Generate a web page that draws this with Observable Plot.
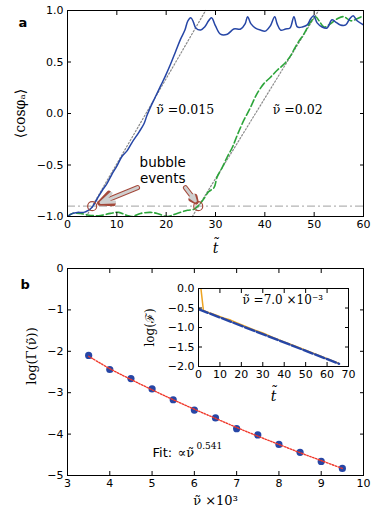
<!DOCTYPE html>
<html><head><meta charset="utf-8">
<script src="https://cdn.jsdelivr.net/npm/d3@7"></script>
<script src="https://cdn.jsdelivr.net/npm/@observablehq/plot@0.6"></script>
<style>
body{margin:0;background:#fff;}
#wrap{position:relative;width:374px;height:524px;background:#fff;}
#wrap svg{position:absolute;overflow:visible;background:transparent;}
</style></head><body><div id="wrap"></div>
<script>
// ---------- Panel a data ----------
const tBlue   = [0,1,2,3.3,4.2,5,6,7,8,9,10,11,12.1,13.1,14.5,15.5,16.1,16.8,17.8,18.9,19.9,20.9,21.9,22.9,23.8,24.4,25,25.5,26,27,27.8,28.6,29.2,30,31,32.4,33.7,35.1,36,36.5,37.2,38.1,39.1,40.1,41.1,42,42.5,43.2,44.2,45.1,45.9,46.6,47.6,48.6,49.3,49.9,50.6,51.6,52.6,53.6,54.3,55.3,56.4,57.2,57.9,58.7,60];
const cosBlue = [-1.0,-0.97,-0.96,-0.96,-0.94,-0.91,-0.83,-0.75,-0.68,-0.59,-0.51,-0.42,-0.36,-0.28,-0.18,-0.10,-0.02,0.06,0.16,0.27,0.37,0.48,0.60,0.72,0.81,0.90,0.93,0.89,0.83,0.81,0.84,0.90,0.93,0.85,0.77,0.77,0.82,0.82,0.87,0.94,0.87,0.83,0.81,0.80,0.85,0.94,0.87,0.81,0.82,0.83,0.94,0.84,0.84,0.86,0.92,0.95,0.88,0.84,0.83,0.91,0.89,0.86,0.86,0.92,0.95,0.90,0.86];
const tGreen   = [0,1,2.6,4.7,6.7,8.7,10.4,12.1,13.1,14.8,16.8,18.2,20.2,22.2,24.3,25.6,26.6,27.6,28.6,29.7,30.3,31.4,32.4,33.4,34.5,35.7,37.1,38.4,39.8,41.1,42.5,43.9,45.2,46.6,47.9,49.3,50.3,51,52,53.3,54.7,56,57.4,58.7,60];
const cosGreen = [-1.0,-0.97,-0.97,-0.99,-0.99,-0.97,-0.96,-0.99,-1.0,-0.97,-0.96,-0.97,-1.0,-0.97,-0.94,-0.93,-0.89,-0.83,-0.76,-0.72,-0.62,-0.52,-0.42,-0.33,-0.20,-0.07,0.06,0.19,0.29,0.35,0.42,0.48,0.56,0.68,0.77,0.89,0.94,0.90,0.84,0.87,0.92,0.94,0.90,0.92,0.95];
const guide1T = [3.8, 28.0], guide1V = [-1.0, 1.0];
const guide2T = [25.3, 50.9], guide2V = [-1.0, 1.0];
const threshold = -0.9;
const bubbleT = [5.0, 26.5], bubbleV = [-0.9, -0.9];
const arrowT1 = [14.2, 23.9], arrowV1 = [-0.72, -0.72];
const arrowT2 = [6.5, 26.1],  arrowV2 = [-0.87, -0.86];
const aXTicks = [0,10,20,30,40,50,60];
const aYTicks = [-1.0,-0.5,0.0,0.5,1.0];
const nuLabels = ["ν\u0303 =0.015", "ν\u0303 =0.02"];
const nuLabelT = [18.0, 41.6], nuLabelV = [0.03, 0.03];
const bubbleWords = ["bubble", "events"];
const bubbleWordT = [19.3, 19.3], bubbleWordV = [-0.48, -0.63];

// ---------- Panel b data ----------
const nu3   = [3.5,4.0,4.5,5.0,5.5,6.0,6.5,7.0,7.5,8.0,8.5,9.0,9.5];
const logG  = [-2.10,-2.44,-2.66,-2.91,-3.17,-3.42,-3.61,-3.87,-4.02,-4.25,-4.44,-4.66,-4.83];
const logGFit = [-2.12,-2.42,-2.68,-2.93,-3.17,-3.40,-3.62,-3.84,-4.05,-4.25,-4.45,-4.64,-4.83];
const bXTicks = [3,4,5,6,7,8,9,10];
const bYTicks = [0,-1,-2,-3,-4,-5];

// ---------- Inset data ----------
const insetT   = [0.5,2.3,5,8,12,15,18,22,26,30,35,40,45,50,55,60,65];
const insetLogF= [0.3,-0.56,-0.62,-0.68,-0.76,-0.81,-0.88,-0.97,-1.06,-1.14,-1.26,-1.37,-1.47,-1.58,-1.69,-1.80,-1.91];
const insetFitT = [0, 65.6], insetFitV = [-0.53, -1.93];
const iXTicks = [0,10,20,30,40,50,60,70];
const iYTicks = [0.0,-0.5,-1.0,-1.5,-2.0];

const BLUE = "#2646a6", GREEN = "#2ca53a", ORANGE = "#eda321", RED = "#f0392b", BROWN = "#a4493b";
const SANS = "DejaVu Sans", SERIF = "DejaVu Serif";
const wrap = document.getElementById("wrap");
const f1 = d3.format(".1f");

function boxAxes(xt, yt, xf, yf) {
  return [
    Plot.axisX(xt, {anchor:"bottom", tickSize:-4, tickPadding:8, tickFormat:xf, fontSize:11, fontFamily:SANS, fill:"#000", label:null}),
    Plot.axisX(xt, {anchor:"top", tickSize:-4, tickFormat:null, label:null, text:null}),
    Plot.axisY(yt, {anchor:"left", tickSize:-4, tickPadding:8, tickFormat:yf, fontSize:11, fontFamily:SANS, fill:"#000", label:null}),
    Plot.axisY(yt, {anchor:"right", tickSize:-4, tickFormat:null, label:null, text:null}),
    Plot.frame({stroke:"#000", strokeWidth:1})
  ];
}

// ---------- Panel a ----------
const rowsBlue = tBlue.map((t,i)=>({t, v:cosBlue[i]}));
const rowsGreen = tGreen.map((t,i)=>({t, v:cosGreen[i]}));
const arrows = arrowT1.map((t,i)=>({x1:t, y1:arrowV1[i], x2:arrowT2[i], y2:arrowV2[i]}));
const pa = Plot.plot({
  width:374, height:260, marginLeft:67, marginRight:11, marginTop:10, marginBottom:44,
  x:{domain:[0,60]}, y:{domain:[-1,1]},
  style:{fontFamily:SANS, background:"transparent"},
  marks:[
    Plot.ruleY([threshold], {stroke:"#b4b4b4", strokeWidth:1.3, strokeDasharray:"8,3,2,3"}),
    Plot.line(guide1T.map((t,i)=>({t, v:guide1V[i]})), {x:"t", y:"v", stroke:"#8a8a8a", strokeWidth:1.2, strokeDasharray:"1.5,2"}),
    Plot.line(guide2T.map((t,i)=>({t, v:guide2V[i]})), {x:"t", y:"v", stroke:"#8a8a8a", strokeWidth:1.2, strokeDasharray:"1.5,2"}),
    Plot.line(rowsGreen, {x:"t", y:"v", stroke:GREEN, strokeWidth:1.6, strokeDasharray:"7,3", curve:"catmull-rom", clip:true}),
    Plot.line(rowsBlue, {x:"t", y:"v", stroke:BLUE, strokeWidth:1.5, curve:"catmull-rom", clip:true}),
    Plot.dot(bubbleT.map((t,i)=>({t, v:bubbleV[i]})), {x:"t", y:"v", r:4.5, stroke:BROWN, strokeWidth:1.2, fill:"none"}),
    Plot.arrow(arrows, {x1:"x1", y1:"y1", x2:"x2", y2:"y2", stroke:BROWN, strokeWidth:5, headLength:11, headAngle:50}),
    Plot.arrow(arrows, {x1:"x1", y1:"y1", x2:"x2", y2:"y2", stroke:"#cfcfcf", strokeWidth:3, headLength:9, headAngle:40, insetEnd:1.5}),
    Plot.text(bubbleWords, {x:(d,i)=>bubbleWordT[i], y:(d,i)=>bubbleWordV[i], text:d=>d, textAnchor:"middle", lineAnchor:"middle", fontSize:13.5, fontFamily:SANS, fill:"#000"}),
    ...boxAxes(aXTicks, aYTicks, d=>String(d), f1),
    Plot.text(nuLabels, {x:(d,i)=>nuLabelT[i], y:(d,i)=>nuLabelV[i], text:d=>d, textAnchor:"start", fontSize:12.5, fontFamily:SERIF, fill:"#000"}),
    Plot.text(["t\u0303"], {frameAnchor:"bottom", dy:36, text:d=>d, fontSize:14, fontFamily:SERIF, fontStyle:"italic", fill:"#000"}),
    Plot.text(["⟨cosφₐ⟩"], {frameAnchor:"left", dx:-47, textAnchor:"middle", lineAnchor:"middle", rotate:-90, text:d=>d, fontSize:14, fontFamily:SERIF, fill:"#000"}),
    Plot.text(["a"], {frameAnchor:"top-left", dx:-49, dy:7, text:d=>d, fontSize:13, fontWeight:"bold", fontFamily:SANS, fill:"#000"})
  ]
});
pa.style.left = "0px"; pa.style.top = "0px";
wrap.appendChild(pa);

// ---------- Panel b ----------
const rowsB = nu3.map((x,i)=>({x, y:logG[i], f:logGFit[i]}));
const pb = Plot.plot({
  width:374, height:264, marginLeft:67, marginRight:11, marginTop:8, marginBottom:49,
  x:{domain:[3,10]}, y:{domain:[-5,0]},
  style:{fontFamily:SANS, background:"transparent"},
  marks:[
    Plot.dot(rowsB, {x:"x", y:"y", r:3.6, fill:BLUE, stroke:"none"}),
    Plot.line(rowsB, {x:"x", y:"f", stroke:RED, strokeWidth:1.4, strokeDasharray:"1.5,1.5", curve:"catmull-rom"}),
    ...boxAxes(bXTicks, bYTicks, d=>String(d), d=>d3.format("d")(d)),
    Plot.text(["ν\u0303 ×10³"], {frameAnchor:"bottom", dy:29, text:d=>d, fontSize:13, fontFamily:SERIF, fill:"#000"}),
    Plot.text(["log(Γ(ν\u0303))"], {frameAnchor:"left", dx:-36, dy:-16, textAnchor:"middle", lineAnchor:"middle", rotate:-90, text:d=>d, fontSize:13, fontFamily:SERIF, fill:"#000"}),
    Plot.text(["Fit:"], {frameAnchor:"top-left", dx:152-67, dy:184, text:d=>d, textAnchor:"start", lineAnchor:"middle", fontSize:13, fontFamily:SANS, fill:"#000"}),
    Plot.text(["∝ν\u0303"], {frameAnchor:"top-left", dx:177-67, dy:184, text:d=>d, textAnchor:"start", lineAnchor:"middle", fontSize:13, fontFamily:SERIF, fill:"#000"}),
    Plot.text(["0.541"], {frameAnchor:"top-left", dx:196-67, dy:178, text:d=>d, textAnchor:"start", lineAnchor:"middle", fontSize:9, fontFamily:SERIF, fill:"#000"}),
    Plot.text(["b"], {frameAnchor:"top-left", dx:-47, dy:11, text:d=>d, fontSize:13, fontWeight:"bold", fontFamily:SANS, fill:"#000"})
  ]
});
pb.style.left = "0px"; pb.style.top = "260px";
wrap.appendChild(pb);

// ---------- Inset ----------
const rowsI = insetT.map((t,i)=>({t, v:insetLogF[i]}));
const rowsIF = insetFitT.map((t,i)=>({t, v:insetFitV[i]}));
const pi = Plot.plot({
  width:220, height:125, marginLeft:58, marginRight:12, marginTop:8, marginBottom:39,
  x:{domain:[0,70]}, y:{domain:[-2,0]},
  style:{fontFamily:SANS, background:"transparent"},
  marks:[
    Plot.frame({fill:"white"}),
    Plot.line(rowsI, {x:"t", y:"v", stroke:ORANGE, strokeWidth:1.5, clip:true}),
    Plot.line(rowsIF, {x:"t", y:"v", stroke:BLUE, strokeWidth:2.4, strokeDasharray:"10,2.5", clip:true}),
    ...boxAxes(iXTicks, iYTicks, d=>String(d), f1),
    Plot.text(["ν\u0303 =7.0 ×10⁻³"], {frameAnchor:"top-left", dx:242-198, dy:12, text:d=>d, textAnchor:"start", lineAnchor:"middle", fontSize:12, fontFamily:SERIF, fill:"#000"}),
    Plot.text(["t\u0303"], {frameAnchor:"bottom", dy:34, text:d=>d, fontSize:14, fontFamily:SERIF, fontStyle:"italic", fill:"#000"}),
    Plot.text(["log(ℱ)"], {frameAnchor:"left", dx:-48, textAnchor:"middle", lineAnchor:"middle", rotate:-90, text:d=>d, fontSize:12, fontFamily:SERIF, fill:"#000"})
  ]
});
pi.style.left = "140px"; pi.style.top = "280px";
wrap.appendChild(pi);
</script></body></html>
